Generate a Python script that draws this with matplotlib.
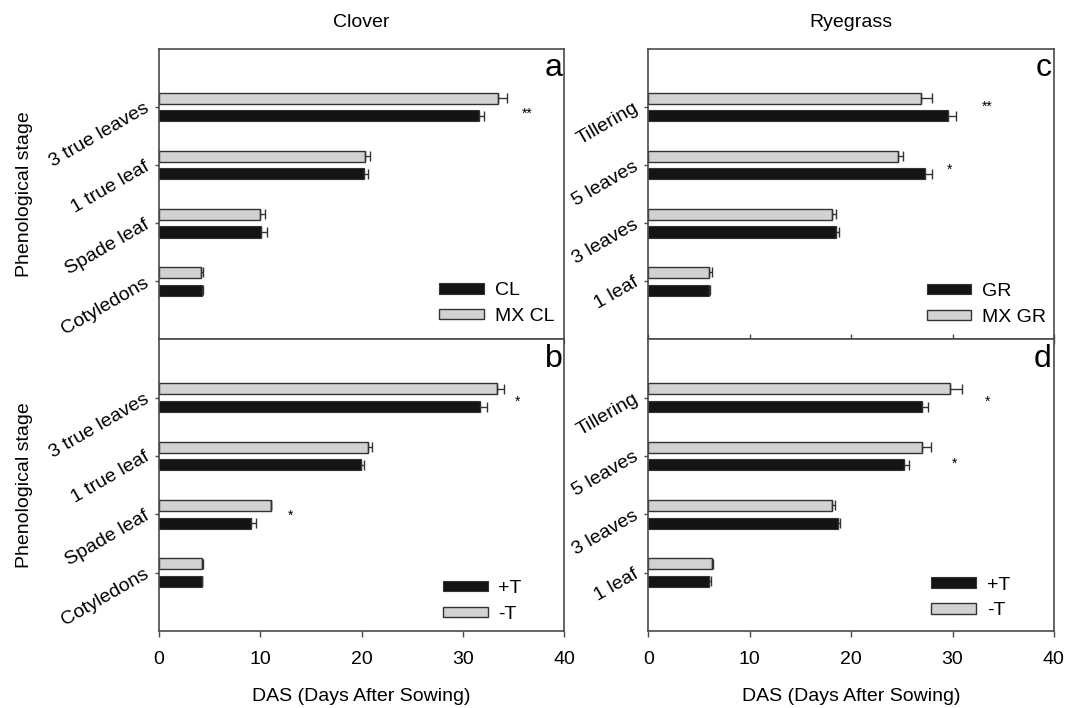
import matplotlib
matplotlib.use("Agg")
import matplotlib.pyplot as plt
from matplotlib.patches import Patch
import numpy as np

plt.rcParams['font.family'] = ['Liberation Sans', 'DejaVu Sans']

# ---------------- data ----------------
clover_stages = ["Cotyledons", "Spade leaf", "1 true leaf", "3 true leaves"]
ryegrass_stages = ["1 leaf", "3 leaves", "5 leaves", "Tillering"]

# panel a (Clover, CL vs MX CL)
a_cl = [4.25, 10.05, 20.2, 31.6]
a_cl_err = [0.05, 0.6, 0.4, 0.5]
a_mxcl = [4.15, 10.0, 20.3, 33.4]
a_mxcl_err = [0.15, 0.5, 0.5, 0.9]

# panel b (Clover, +T vs -T)
b_plus = [4.2, 9.06, 19.9, 31.7]
b_plus_err = [0.05, 0.55, 0.35, 0.7]
b_minus = [4.2, 11.0, 20.65, 33.3]
b_minus_err = [0.1, 0.0, 0.4, 0.75]

# panel c (Ryegrass, GR vs MX GR)
c_gr = [6.0, 18.5, 27.3, 29.6]
c_gr_err = [0.1, 0.25, 0.7, 0.7]
c_mxgr = [6.0, 18.1, 24.65, 26.9]
c_mxgr_err = [0.25, 0.4, 0.5, 1.1]

# panel d (Ryegrass, +T vs -T)
d_plus = [5.97, 18.7, 25.2, 26.95]
d_plus_err = [0.15, 0.2, 0.55, 0.65]
d_minus = [6.25, 18.1, 26.95, 29.75]
d_minus_err = [0.15, 0.3, 0.95, 1.2]

# significance marks: (x, y, text)
a_sig = [(36.3, 3.96, "**")]
b_sig = [(35.4, 4.0, "*"), (13.0, 2.05, "*")]
c_sig = [(33.4, 4.08, "**"), (29.7, 3.0, "*")]
d_sig = [(33.5, 4.0, "*"), (30.2, 2.94, "*")]

x_ticks = [0, 10, 20, 30, 40]

# ---------------- style ----------------
BLACK = "#141414"
GRAY = "#d2d2d2"
EDGE = "#333333"
SPINE = "#4a4a4a"
FS = 14

fig = plt.figure(figsize=(10.71, 7.08), dpi=100)

lx, rx, w = 0.1485, 0.6055, 0.3785
top_y, top_h = 0.5205, 0.4103
bot_y, bot_h = 0.1088, 0.4117

ax_a = fig.add_axes([lx, top_y, w, top_h])
ax_b = fig.add_axes([lx, bot_y, w, bot_h])
ax_c = fig.add_axes([rx, top_y, w, top_h])
ax_d = fig.add_axes([rx, bot_y, w, bot_h])

H = 0.19
OFF_G = 0.155
OFF_B = -0.15


def draw(ax, stages, black, black_err, gray, gray_err, labels, letter, sig,
         bottom, leg_anchor):
    pos = np.arange(1, len(stages) + 1)
    ekw = dict(ecolor=EDGE, elinewidth=1.0, capsize=3.5, capthick=1.0)
    ax.barh(pos + OFF_G, gray, height=H, color=GRAY, edgecolor=EDGE,
            linewidth=1.0, xerr=[np.zeros(len(gray)), gray_err],
            error_kw=ekw, zorder=2)
    ax.barh(pos + OFF_B, black, height=H, color=BLACK, edgecolor=EDGE,
            linewidth=0.8, xerr=[np.zeros(len(black)), black_err],
            error_kw=ekw, zorder=2)
    ax.set_xlim(0, 40)
    ax.set_ylim(0, 5)
    ax.set_yticks(pos)
    ax.set_yticklabels(stages, rotation=30, ha='right', va='center',
                       rotation_mode='anchor', fontsize=FS)
    ax.tick_params(axis='y', direction='out', length=3, width=1,
                   color=SPINE, pad=5)
    ax.set_xticks(x_ticks)
    if bottom:
        ax.set_xticklabels([str(t) for t in x_ticks], fontsize=FS)
        ax.tick_params(axis='x', direction='out', length=4.5, width=1,
                       color=SPINE, pad=10)
        ax.set_xlabel("DAS (Days After Sowing)", fontsize=FS, labelpad=14)
    else:
        ax.set_xticklabels([])
    for s in ax.spines.values():
        s.set_color(SPINE)
        s.set_linewidth(1.2)
    ax.text(0.995, 0.985, letter, transform=ax.transAxes, ha='right',
            va='top', fontsize=23)
    for (x, y, t) in sig:
        ax.annotate(t, xy=(x, y), xytext=(0, -3), textcoords='offset points',
                    ha='center', va='center', fontsize=10)
    handles = [Patch(facecolor=BLACK, edgecolor=EDGE, linewidth=0.8),
               Patch(facecolor=GRAY, edgecolor=EDGE, linewidth=1.0)]
    ax.legend(handles, labels, loc='lower left', bbox_to_anchor=leg_anchor,
              frameon=False, fontsize=FS, handlelength=2.3,
              handleheight=0.45, handletextpad=0.55, labelspacing=0.45,
              borderpad=0, borderaxespad=0)


draw(ax_a, clover_stages, a_cl, a_cl_err, a_mxcl, a_mxcl_err,
     ["CL", "MX CL"], "a", a_sig, False, (0.691, 0.050))
draw(ax_b, clover_stages, b_plus, b_plus_err, b_minus, b_minus_err,
     ["+T", "-T"], "b", b_sig, True, (0.700, 0.028))
draw(ax_c, ryegrass_stages, c_gr, c_gr_err, c_mxgr, c_mxgr_err,
     ["GR", "MX GR"], "c", c_sig, False, (0.686, 0.047))
draw(ax_d, ryegrass_stages, d_plus, d_plus_err, d_minus, d_minus_err,
     ["+T", "-T"], "d", d_sig, True, (0.698, 0.040))

# ticks crossing the shared border on the right column
ax_c.tick_params(axis='x', direction='inout', length=6.5, width=1,
                 color=SPINE)

ax_a.set_ylabel("Phenological stage", fontsize=FS, labelpad=10)
ax_b.set_ylabel("Phenological stage", fontsize=FS, labelpad=10)
ax_a.set_title("Clover", fontsize=FS, pad=16)
ax_c.set_title("Ryegrass", fontsize=FS, pad=16)

fig.savefig("out.png", dpi=100)
